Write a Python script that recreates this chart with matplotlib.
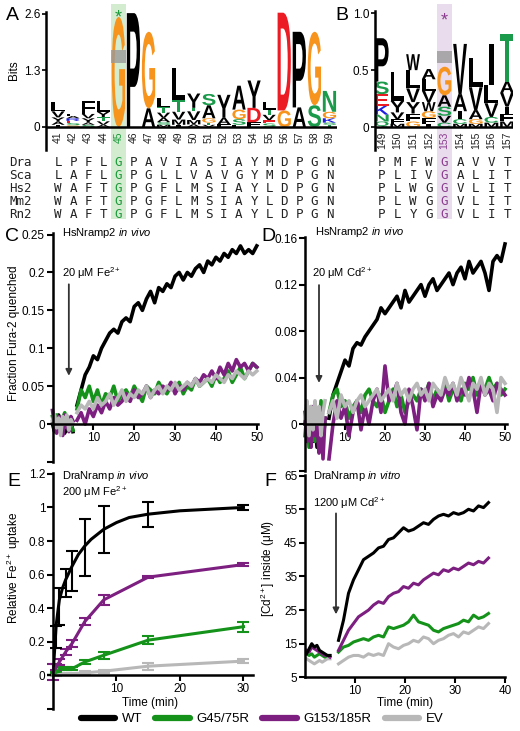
import numpy as np
import matplotlib
matplotlib.use('Agg')
import matplotlib.pyplot as plt
import matplotlib.transforms as mtransforms
from matplotlib.textpath import TextPath
from matplotlib.patches import PathPatch, Rectangle
from matplotlib.font_manager import FontProperties
from matplotlib.lines import Line2D

W, H = 520, 731
plt.rcParams['font.family'] = ['Liberation Sans', 'DejaVu Sans']
plt.rcParams['mathtext.fontset'] = 'custom'
plt.rcParams['mathtext.rm'] = 'Liberation Sans'
plt.rcParams['mathtext.it'] = 'Liberation Sans:italic'
plt.rcParams['mathtext.default'] = 'regular'

# ---------------- data ----------------
# sequence logo A (positions 41-59), stacks bottom -> top as (residue, bits)
a_pos = list(range(41, 60))
a_logo = [
    [('I', 0.05), ('A', 0.07), ('Y', 0.1), ('V', 0.14), ('L', 0.22)],
    [('G', 0.04), ('S', 0.05), ('E', 0.05), ('R', 0.06), ('A', 0.05), ('F', 0.05)],
    [('S', 0.05), ('A', 0.05), ('Y', 0.1), ('V', 0.1), ('F', 0.3)],
    [('A', 0.05), ('V', 0.08), ('T', 0.1), ('Y', 0.12), ('L', 0.25)],
    [('G', 2.53)],
    [('P', 2.62)],
    [('A', 0.43), ('G', 1.76)],
    [('M', 0.05), ('S', 0.06), ('A', 0.1), ('V', 0.12), ('T', 0.12), ('L', 0.22)],
    [('I', 0.05), ('M', 0.12), ('V', 0.18), ('T', 0.27), ('L', 0.73)],
    [('A', 0.06), ('M', 0.1), ('V', 0.2), ('T', 0.08), ('Y', 0.33)],
    [('V', 0.05), ('T', 0.05), ('G', 0.1), ('A', 0.3), ('S', 0.26)],
    [('F', 0.06), ('A', 0.15), ('Y', 0.53)],
    [('F', 0.05), ('S', 0.13), ('G', 0.22), ('A', 0.55)],
    [('F', 0.11), ('D', 0.33), ('Y', 0.63)],
    [('S', 0.08), ('E', 0.08), ('V', 0.12), ('T', 0.12), ('L', 0.18)],
    [('G', 0.38), ('D', 2.25)],
    [('A', 0.45), ('P', 1.74)],
    [('S', 0.5), ('G', 1.69)],
    [('T', 0.05), ('S', 0.05), ('K', 0.1), ('G', 0.15), ('N', 0.48)],
]
a_mark = 45
a_err = (1.47, 1.77)

b_pos = list(range(149, 158))
b_logo = [
    [('Q', 0.05), ('N', 0.06), ('K', 0.08), ('E', 0.1), ('S', 0.11), ('P', 0.38)],
    [('M', 0.03), ('F', 0.04), ('V', 0.06), ('Y', 0.1), ('L', 0.25)],
    [('G', 0.05), ('F', 0.07), ('Y', 0.1), ('V', 0.12), ('L', 0.16), ('W', 0.14)],
    [('I', 0.03), ('F', 0.05), ('G', 0.06), ('W', 0.08), ('V', 0.1), ('L', 0.1), ('A', 0.09)],
    [('C', 0.04), ('V', 0.06), ('S', 0.08), ('A', 0.1), ('G', 0.25)],
    [('M', 0.03), ('C', 0.04), ('I', 0.07), ('A', 0.15), ('V', 0.44)],
    [('M', 0.03), ('G', 0.04), ('A', 0.08), ('V', 0.2), ('L', 0.26)],
    [('M', 0.04), ('C', 0.05), ('V', 0.12), ('L', 0.16), ('I', 0.36)],
    [('M', 0.05), ('F', 0.07), ('I', 0.06), ('V', 0.12), ('A', 0.1), ('T', 0.42)],
]
b_mark = 153
b_err = (0.56, 0.67)

seq_names = ['Dra', 'Sca', 'Hs2', 'Mm2', 'Rn2']
a_seqs = ['LPFLGPAVIASIAYMDPGN', 'LAFLGPGLLVAVGYMDPGN', 'WAFTGPGFLMSIAYLDPGN',
          'WAFTGPGFLMSIAYLDPGN', 'WAFTGPGFLMSIAYLDPGN']
b_seqs = ['PMFWGAVVT', 'PLIVGALIT', 'PLWGGVLIT', 'PLWGGVLIT', 'PLYGGVLIT']

# C: HsNramp2 Fe2+ (fraction Fura-2 quenched); before and after addition
c_pre = {
    'WT': [0.0, -0.01, 0.005, 0.012, -0.005, 0.0, -0.012, 0.008, -0.008, 0.005, -0.01],
    'G45': [0.01, -0.005, 0.012, 0.0, -0.01, 0.008, 0.015, -0.005, 0.005, 0.0, -0.008],
    'G153': [0.018, 0.0, -0.012, 0.01, 0.005, -0.015, 0.012, 0.0, -0.01, 0.01, 0.004],
    'EV': [0.005, 0.012, -0.005, 0.008, -0.015, 0.01, 0.0, 0.012, -0.008, 0.006, 0.0],
}
c_post = {
    'WT': [0.025, 0.045, 0.065, 0.075, 0.09, 0.085, 0.1, 0.11, 0.12, 0.125, 0.12, 0.135,
           0.14, 0.135, 0.155, 0.16, 0.15, 0.165, 0.175, 0.16, 0.18, 0.175, 0.185, 0.18,
           0.195, 0.2, 0.19, 0.2, 0.195, 0.205, 0.21, 0.2, 0.215, 0.21, 0.22, 0.215, 0.225,
           0.22, 0.23, 0.225, 0.235, 0.225, 0.23, 0.225, 0.235],
    'G45': [0.02, 0.045, 0.035, 0.05, 0.03, 0.045, 0.025, 0.04, 0.035, 0.05, 0.03, 0.04,
            0.045, 0.035, 0.05, 0.04, 0.03, 0.05, 0.045, 0.04, 0.055, 0.045, 0.04, 0.05,
            0.045, 0.055, 0.04, 0.05, 0.045, 0.06, 0.05, 0.055, 0.06, 0.05, 0.065, 0.055,
            0.06, 0.07, 0.055, 0.065, 0.075, 0.06, 0.07, 0.08, 0.075],
    'G153': [0.005, 0.015, 0.0, 0.02, 0.01, 0.025, 0.015, 0.03, 0.02, 0.035, 0.025, 0.03,
             0.04, 0.03, 0.045, 0.035, 0.04, 0.05, 0.035, 0.045, 0.04, 0.05, 0.045, 0.055,
             0.04, 0.05, 0.045, 0.055, 0.05, 0.06, 0.055, 0.065, 0.06, 0.07, 0.06, 0.075,
             0.065, 0.08, 0.07, 0.085, 0.075, 0.08, 0.07, 0.08, 0.075],
    'EV': [0.015, 0.025, 0.02, 0.03, 0.02, 0.035, 0.025, 0.03, 0.04, 0.025, 0.035, 0.045,
           0.03, 0.04, 0.035, 0.045, 0.04, 0.05, 0.035, 0.045, 0.05, 0.04, 0.05, 0.045,
           0.055, 0.045, 0.05, 0.055, 0.05, 0.06, 0.05, 0.055, 0.06, 0.055, 0.065, 0.06,
           0.055, 0.065, 0.06, 0.07, 0.065, 0.06, 0.07, 0.065, 0.07],
}

# D: HsNramp2 Cd2+
d_pre = {
    'WT': [0.0, 0.015, -0.01, 0.01, -0.015, 0.005, -0.02, 0.01, 0.0, -0.01, 0.005],
    'G45': [-0.01, 0.01, -0.02, 0.015, 0.0, -0.015, 0.01, -0.005, 0.02, -0.01, 0.0],
    'G153': [0.01, -0.015, 0.005, -0.02, 0.015, -0.01, 0.0, -0.025, 0.01, -0.03, 0.005],
    'EV': [0.005, 0.02, -0.01, 0.015, -0.005, 0.02, 0.0, 0.015, -0.01, 0.01, 0.02],
}
d_post = {
    'WT': [0.005, 0.025, 0.035, 0.045, 0.055, 0.05, 0.065, 0.07, 0.068, 0.075, 0.08,
           0.085, 0.09, 0.1, 0.095, 0.1, 0.105, 0.11, 0.1, 0.115, 0.105, 0.11, 0.115,
           0.12, 0.11, 0.12, 0.125, 0.115, 0.12, 0.125, 0.13, 0.12, 0.13, 0.135, 0.125,
           0.14, 0.13, 0.135, 0.14, 0.13, 0.115, 0.14, 0.145, 0.14, 0.155],
    'G45': [0.01, 0.025, 0.03, 0.015, 0.02, 0.005, 0.015, 0.02, 0.01, 0.025, 0.03, 0.02,
            0.015, 0.025, 0.01, 0.02, 0.03, 0.015, 0.025, 0.01, 0.02, 0.025, 0.02, 0.03,
            0.025, 0.035, 0.02, 0.03, 0.025, 0.035, 0.02, 0.03, 0.025, 0.02, 0.035, 0.03,
            0.04, 0.025, 0.035, 0.03, 0.04, 0.03, 0.035, 0.025, 0.03],
    'G153': [-0.03, 0.0, 0.02, 0.005, 0.015, -0.01, 0.01, 0.02, -0.005, 0.015, 0.0, 0.02,
             0.03, 0.01, 0.05, 0.02, 0.025, 0.035, 0.01, 0.0, 0.03, 0.015, -0.005, 0.03,
             0.02, 0.035, 0.015, 0.025, 0.02, 0.03, 0.025, 0.035, 0.02, 0.03, 0.025, 0.04,
             0.03, 0.01, 0.035, 0.025, 0.03, 0.02, 0.035, 0.03, 0.025],
    'EV': [0.01, 0.02, 0.005, 0.025, 0.015, 0.02, 0.01, 0.02, 0.025, 0.015, 0.02, 0.025,
           0.03, 0.02, 0.025, 0.03, 0.02, 0.035, 0.025, 0.03, 0.02, 0.03, 0.035, 0.025,
           0.03, 0.02, 0.035, 0.03, 0.025, 0.04, 0.03, 0.035, 0.025, 0.04, 0.03, 0.02,
           0.035, 0.03, 0.04, 0.025, 0.035, 0.03, 0.01, 0.04, 0.035],
}

# E: DraNramp Fe2+ uptake, mean +/- error
e_time = [0, 0.5, 1, 2, 3, 5, 8, 15, 30]
e_mean = {
    'WT': [0, 0.23, 0.41, 0.55, 0.62, 0.76, 0.87, 0.96, 1.0],
    'G45': [0, 0.02, 0.04, 0.04, 0.04, 0.08, 0.12, 0.21, 0.29],
    'G153': [0.02, 0.05, 0.08, 0.14, 0.19, 0.32, 0.45, 0.585, 0.66],
    'EV': [0, 0.002, 0.005, 0.01, 0.01, 0.015, 0.025, 0.055, 0.085],
}
e_err = {
    'WT': [0, 0.065, 0.11, 0.085, 0.12, 0.17, 0.14, 0.075, 0.015],
    'G45': [0, 0.005, 0.01, 0.01, 0.01, 0.01, 0.02, 0.025, 0.03],
    'G153': [0.05, 0.02, 0.02, 0.02, 0.02, 0.02, 0.03, 0.008, 0.008],
    'EV': [0, 0.005, 0.005, 0.005, 0.005, 0.01, 0.01, 0.02, 0.01],
}
# WT fitted curve
e_fit_t = [0, 0.5, 1, 1.5, 2, 3, 4, 5, 6, 8, 10, 12, 15, 20, 25, 30]
e_fit_wt = [0, 0.3, 0.45, 0.52, 0.57, 0.65, 0.72, 0.77, 0.81, 0.87, 0.91, 0.94, 0.96, 0.98, 0.99, 1.0]

# F: DraNramp proteoliposomes, [Cd2+] inside (uM)
f_pre = {
    'WT': [12, 13.5, 15, 14, 14.5, 13, 12.5, 12, 11.5, 11.5],
    'G45': [12, 11.5, 12, 11, 11.5, 12, 11.5, 11, 11.5, 11.5],
    'G153': [13, 12.5, 14, 13.5, 13, 12.5, 12, 11.5, 11.5, 11],
    'EV': [10.5, 10, 9.5, 9, 9.5, 10, 9.5, 10, 10.5, 10.5],
}
f_post = {
    'WT': [16, 22, 30, 34, 37, 40, 41, 42, 43.5, 44, 46, 46.5, 48, 49.5, 48.5, 49, 50, 51,
           50.5, 52, 53, 53.5, 53, 54, 53.5, 54, 55, 54.5, 56, 55.5, 57],
    'G45': [12.5, 14, 14.5, 15.5, 16, 16.5, 16, 17, 17.5, 17, 20, 19.5, 20, 20.5, 21.5,
            23.5, 21.5, 21, 20.5, 19, 18.5, 19.5, 20, 20.5, 21, 22, 21.5, 23.5, 22.5, 23, 24],
    'G153': [13, 16, 19, 21, 23, 24, 25, 26.5, 27.5, 27, 29, 30, 30.5, 32, 31.5, 33, 32.5,
             34, 35, 36, 35.5, 37, 36.5, 37.5, 37, 38, 39, 38.5, 39.5, 39, 40.5],
    'EV': [9, 10, 11, 11.5, 11.5, 11, 12, 11.5, 12, 11.5, 15, 14, 13.5, 14.5, 15, 16, 15.5,
           17, 16.5, 15, 16, 16.5, 17.5, 18, 17, 18.5, 18, 19, 20, 19.5, 21],
}

series = ['WT', 'G45', 'G153', 'EV']
labels = ['WT', 'G45/75R', 'G153/185R', 'EV']
colors = {'WT': '#000000', 'G45': '#14921a', 'G153': '#7c1f80', 'EV': '#b8b8b8'}

ORANGE, RED, GREEN_AA, BLUE = '#f7941d', '#ec1c24', '#1a9a4a', '#1f1fe0'
LOGO_FONT = FontProperties(family='Liberation Sans', weight='bold')
MONO = 'DejaVu Sans Mono'

fig = plt.figure(figsize=(W / 100, H / 100), dpi=100)


def px_axes(x0, y0, x1, y1):
    return fig.add_axes([x0 / W, 1 - y1 / H, (x1 - x0) / W, (y1 - y0) / H])


def ftext(x, y, s, **kw):
    return fig.text(x / W, 1 - y / H, s, **kw)


def letter_color(ch):
    if ch == 'G':
        return ORANGE
    if ch in 'DE':
        return RED
    if ch in 'STNQC':
        return GREEN_AA
    if ch in 'KRH':
        return BLUE
    return 'black'


def draw_logo(ax, positions, stacks, width=0.88):
    for pos, stack in zip(positions, stacks):
        base = 0.0
        for ch, h in stack:
            w = width * 0.35 if ch == 'I' else width
            tp = TextPath((0, 0), ch, size=1, prop=LOGO_FONT)
            bb = tp.get_extents()
            tr = (mtransforms.Affine2D().translate(-bb.x0, -bb.y0)
                  .scale(w / bb.width, h / bb.height)
                  .translate(pos - w / 2, base))
            ax.add_patch(PathPatch(tr.transform_path(tp), fc=letter_color(ch), ec='none', lw=0))
            base += h


def logo_panel(box, xlim, ylim, positions, stacks, mark, err, hl, mark_col,
               yticks, yticklabels, lab_y, star_y):
    ax = px_axes(*box)
    ax.set_xlim(*xlim)
    ax.set_ylim(*ylim)
    ax.axvspan(mark - 0.5, mark + 0.5, color=hl, lw=0, zorder=0)
    draw_logo(ax, positions, stacks)
    ax.add_patch(Rectangle((mark - 0.5, err[0]), 1.0, err[1] - err[0],
                           fc='#9a9a9a', ec='none', alpha=0.8, zorder=3))
    ax.axhline(0, color='black', lw=1.8, zorder=4)
    ax.text(mark, star_y, '*', color=mark_col, ha='center', va='center', fontsize=13)
    for s in ['top', 'right', 'bottom']:
        ax.spines[s].set_visible(False)
    ax.spines['left'].set_linewidth(1.8)
    ax.spines['left'].set_bounds(ylim[0], yticks[-1] * 1.02)
    ax.set_xticks([])
    ax.set_yticks(yticks)
    ax.set_yticklabels(yticklabels)
    ax.tick_params(axis='y', direction='out', length=3, width=1.2, labelsize=8.5, pad=1)
    for p in positions:
        ax.text(p, lab_y, str(p), rotation=90, ha='center', va='top', fontsize=7.5,
                color=mark_col if p == mark else '#222222')
    return ax


def align_panel(box, xlim, positions, seqs, mark, hl, mark_col):
    ax = px_axes(*box)
    ax.set_xlim(*xlim)
    ax.set_ylim(4.35, -1.0)
    ax.axvspan(mark - 0.5, mark + 0.5, color=hl, lw=0, zorder=0)
    ax.axis('off')
    for r, seq in enumerate(seqs):
        for p, ch in zip(positions, seq):
            ax.text(p, r, ch, family=MONO, fontsize=9, ha='center', va='center',
                    color=mark_col if p == mark else '#222222')
    return ax


# ---------- A / B logos ----------
logo_panel((46, 4, 337, 150), (40.2, 59.5), (-0.53, 2.83), a_pos, a_logo, a_mark, a_err,
           '#d3ebcf', '#1a9a3a', [0, 1.3, 2.6], ['0', '1.3', '2.6'], -0.1, 2.5)
logo_panel((375, 4, 513, 150), (148.57, 157.38), (-0.2, 1.08), b_pos, b_logo, b_mark, b_err,
           '#e9dcec', '#8a3c8f', [0, 0.5, 1.0], ['0', '0.5', '1.0'], -0.04, 0.93)
axa = align_panel((46, 150, 337, 219), (40.2, 59.5), a_pos, a_seqs, a_mark, '#d3ebcf', '#1a9a3a')
for r, n in enumerate(seq_names):
    axa.text(37.75, r, n, family=MONO, fontsize=9, ha='left', va='center',
             color='#222222', clip_on=False)
align_panel((375, 150, 513, 219), (148.57, 157.38), b_pos, b_seqs, b_mark, '#e9dcec', '#8a3c8f')
ftext(14, 70, 'Bits', rotation=90, ha='center', va='center', fontsize=8.5)


# ---------- traces ----------
def trace_axes(box, xlim, ylim):
    ax = px_axes(*box)
    ax.set_xlim(*xlim)
    ax.set_ylim(*ylim)
    for s in ['top', 'right']:
        ax.spines[s].set_visible(False)
    ax.spines['left'].set_linewidth(1.8)
    ax.spines['bottom'].set_linewidth(1.8)
    ax.tick_params(direction='out', length=4, width=1.5, labelsize=8.5, pad=1.5)
    return ax


def draw_traces(ax, pre, post, t_pre, t_post_range, lw):
    for k in series:
        ax.plot(np.linspace(t_pre[0], t_pre[1], len(pre[k])), pre[k], color=colors[k], lw=lw,
                solid_joinstyle='round', clip_on=False)
        ax.plot(np.linspace(t_post_range[0], t_post_range[1], len(post[k])), post[k],
                color=colors[k], lw=lw, solid_joinstyle='round', clip_on=False)


# C
axc = trace_axes((52.5, 233, 258, 462), (0, 50.3), (-0.05, 0.252))
axc.spines['bottom'].set_position(('data', 0))
draw_traces(axc, c_pre, c_post, (0, 5), (6, 50), 2.6)
axc.set_xticks([10, 20, 30, 40, 50])
axc.set_yticks([-0.05, 0, 0.05, 0.1, 0.15, 0.2, 0.25])
axc.set_yticklabels(['', '0', '0.05', '0.1', '0.15', '0.2', '0.25'])
axc.annotate('', xy=(4.0, 0.06), xytext=(4.0, 0.188),
             arrowprops=dict(arrowstyle='-|>', color='#333333', lw=1.3, mutation_scale=9))
ftext(62, 233, 'HsNramp2 $\\it{in\\ vivo}$', fontsize=8, va='center')
ftext(62, 273, '20 μM Fe$^{2+}$', fontsize=8, va='center')
ftext(14, 333, 'Fraction Fura-2 quenched', rotation=90, ha='center', va='center', fontsize=8.5)

# D
axd = trace_axes((305, 237, 507, 470.5), (0, 50.5), (-0.04, 0.161))
axd.spines['bottom'].set_position(('data', 0))
draw_traces(axd, d_pre, d_post, (0, 5), (6, 50), 2.6)
axd.set_xticks([10, 20, 30, 40, 50])
axd.set_yticks([-0.04, 0, 0.04, 0.08, 0.12, 0.16])
axd.set_yticklabels(['', '0', '0.04', '0.08', '0.12', '0.16'])
axd.annotate('', xy=(3.5, 0.033), xytext=(3.5, 0.122),
             arrowprops=dict(arrowstyle='-|>', color='#333333', lw=1.3, mutation_scale=9))
ftext(315, 232, 'HsNramp2 $\\it{in\\ vivo}$', fontsize=8, va='center')
ftext(312, 273, '20 μM Cd$^{2+}$', fontsize=8, va='center')

# E
axe = trace_axes((53, 473, 253, 709), (0, 31.5), (-0.2, 1.205))
axe.spines['bottom'].set_position(('data', 0))
for k in ['EV', 'G45', 'G153']:
    axe.errorbar(e_time, e_mean[k], yerr=e_err[k], color=colors[k], lw=2.2, elinewidth=1.5,
                 capsize=4.5, capthick=1.5, clip_on=False)
axe.errorbar(e_time, e_mean['WT'], yerr=e_err['WT'], fmt='none', ecolor=colors['WT'],
             elinewidth=1.5, capsize=4.5, capthick=1.5, clip_on=False)
axe.plot(e_fit_t, e_fit_wt, color=colors['WT'], lw=2.2)
axe.set_xticks([10, 20, 30])
axe.set_yticks([-0.2, 0, 0.2, 0.4, 0.6, 0.8, 1.0, 1.2])
axe.set_yticklabels(['', '0', '0.2', '0.4', '0.6', '0.8', '1', '1.2'])
ftext(62, 476, 'DraNramp $\\it{in\\ vivo}$', fontsize=8, va='center')
ftext(62, 492, '200 μM Fe$^{2+}$', fontsize=8, va='center')
ftext(14, 568, 'Relative Fe$^{2+}$ uptake', rotation=90, ha='center', va='center', fontsize=8.5)
ftext(150, 703, 'Time (min)', ha='center', va='center', fontsize=8.5)

# F
axf = trace_axes((305, 475, 505, 677.3), (0, 40), (5, 65.2))
for k in ['EV', 'G45', 'G153', 'WT']:
    axf.plot(np.linspace(0.3, 5, len(f_pre[k])), f_pre[k], color=colors[k], lw=2.2)
    axf.plot(np.linspace(6.7, 36.7, len(f_post[k])), f_post[k], color=colors[k], lw=2.2)
axf.set_xticks([10, 20, 30, 40])
axf.set_yticks([5, 15, 25, 35, 45, 55, 65])
axf.annotate('', xy=(6.2, 22.9), xytext=(6.2, 54.6),
             arrowprops=dict(arrowstyle='-|>', color='#333333', lw=1.3, mutation_scale=9))
ftext(313, 476, 'DraNramp $\\it{in\\ vitro}$', fontsize=8, va='center')
ftext(313, 503, '1200 μM Cd$^{2+}$', fontsize=8, va='center')
ftext(268, 568, '[Cd$^{2+}$] inside (μM)', rotation=90, ha='center', va='center', fontsize=8.5)
ftext(405, 703, 'Time (min)', ha='center', va='center', fontsize=8.5)

# panel letters
for lab, x, y in [('A', 12, 15), ('B', 342, 15), ('C', 12, 236), ('D', 268, 236),
                  ('E', 14, 482), ('F', 270, 481)]:
    ftext(x, y, lab, fontsize=14, ha='center', va='center')

# legend
handles = [Line2D([0], [0], color=colors[k], lw=4.5, solid_capstyle='round') for k in series]
fig.legend(handles, labels, loc='center', bbox_to_anchor=(262 / W, 1 - 719 / H), ncol=4,
           frameon=False, fontsize=9.5, handlelength=2.6, handletextpad=0.5,
           columnspacing=1.0)

fig.savefig('out.png', dpi=100)
